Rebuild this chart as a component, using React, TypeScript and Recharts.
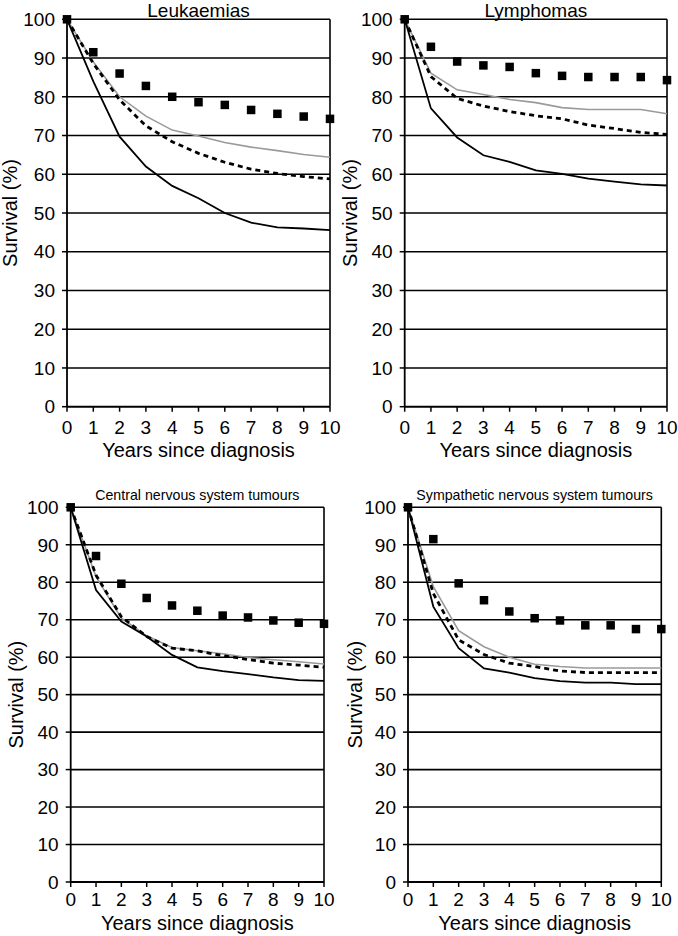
import React from 'react';
import { LineChart, Line, XAxis, YAxis, CartesianGrid, ReferenceLine } from 'recharts';

const FONT = '"Liberation Sans", Arial, sans-serif';

// shared axes
const years = [0, 1, 2, 3, 4, 5, 6, 7, 8, 9, 10];
const yTicks = [0, 10, 20, 30, 40, 50, 60, 70, 80, 90, 100];

// Leukaemias
const leukSolid = [100, 84, 69.7, 62, 57, 53.8, 50, 47.5, 46.3, 46, 45.6];
const leukGray = [100, 89, 80, 75, 71.4, 69.9, 68.2, 67, 66.1, 65.1, 64.4];
const leukDashed = [100, 88.6, 79.2, 72.5, 68.4, 65.4, 63.1, 61.3, 60.2, 59.4, 58.8];
const leukSquares = [100, 91.5, 86, 82.8, 80, 78.6, 77.9, 76.6, 75.6, 74.9, 74.3];

// Lymphomas
const lymphSolid = [100, 77, 69.5, 64.9, 63.2, 61, 60.1, 58.9, 58.1, 57.4, 57.1];
const lymphGray = [100, 86.1, 81.8, 80.6, 79.3, 78.5, 77.2, 76.7, 76.7, 76.7, 75.6];
const lymphDashed = [100, 85.2, 79.6, 77.6, 76.2, 75.1, 74.3, 72.7, 71.8, 70.8, 70.3];
const lymphSquares = [100, 92.9, 89.1, 88.1, 87.7, 86.1, 85.4, 85.1, 85.1, 85.1, 84.3];

// Central nervous system tumours
const cnsSolid = [100, 77.9, 69.5, 65.5, 60.6, 57.3, 56.3, 55.5, 54.6, 53.9, 53.7];
const cnsGray = [100, 81.5, 70.4, 65.7, 62.6, 61.7, 60.9, 59.9, 59.3, 58.8, 58.2];
const cnsDashed = [100, 81.9, 70.8, 65.5, 62.4, 61.7, 60.4, 59.4, 58.4, 57.9, 57.3];
const cnsSquares = [100, 87, 79.6, 75.8, 73.8, 72.4, 71.1, 70.6, 69.8, 69.2, 68.9];

// Sympathetic nervous system tumours
const snsSolid = [100, 73.5, 62.4, 57, 55.9, 54.4, 53.6, 53.2, 53.2, 52.8, 52.8];
const snsGray = [100, 78.8, 67.1, 62.8, 60, 58.1, 57.5, 57.1, 57.1, 57.1, 57.1];
const snsDashed = [100, 77, 64.6, 60.7, 58.4, 57.5, 56.3, 55.9, 55.9, 55.9, 55.9];
const snsSquares = [100, 91.5, 79.7, 75.2, 72.2, 70.4, 69.8, 68.5, 68.5, 67.5, 67.5];

const buildRows = (solid: number[], gray: number[], dashed: number[], squares: number[]) =>
  years.map((year, i) => ({ year, solid: solid[i], gray: gray[i], dashed: dashed[i], squares: squares[i] }));

const Square = (props: any) => {
  const { cx, cy, index } = props;
  if (cx == null || cy == null) return <g key={`sq-${index}`} />;
  return <rect key={`sq-${index}`} x={cx - 4.25} y={cy - 4.25} width={8.5} height={8.5} fill="#000" />;
};

interface PanelProps {
  title: string;
  titleSize: number;
  titleTop: number;
  rows: any[];
  x: number;
  y: number;
  w: number;
  h: number;
  plotL: number;
  plotR: number;
  plotT: number;
  plotB: number;
  xAxisH: number;
  xTickMargin: number;
  yLabelOffset: number;
}

const Panel: React.FC<PanelProps> = (p) => {
  const margin = {
    top: p.plotT - p.y,
    left: 0,
    right: p.x + p.w - p.plotR,
    bottom: p.y + p.h - p.plotB - p.xAxisH,
  };
  const tickStyle = { fontSize: 19, fill: '#000', fontFamily: FONT };
  const center = (p.plotL + p.plotR) / 2;
  return (
    <>
      <div
        style={{
          position: 'absolute',
          left: center - 170,
          width: 340,
          top: p.titleTop,
          fontSize: p.titleSize,
          lineHeight: `${(p.titleSize * 1.117).toFixed(2)}px`,
          textAlign: 'center',
          fontFamily: FONT,
          color: '#000',
          whiteSpace: 'nowrap',
        }}
      >
        {p.title}
      </div>
      <div style={{ position: 'absolute', left: p.x, top: p.y }}>
        <LineChart width={p.w} height={p.h} data={p.rows} margin={margin}>
          <CartesianGrid horizontal vertical={false} stroke="#000" strokeWidth={1.6} />
          <XAxis
            dataKey="year"
            type="number"
            domain={[0, 10]}
            ticks={years}
            interval={0}
            height={p.xAxisH}
            tickSize={5}
            tickMargin={p.xTickMargin}
            tick={tickStyle}
            axisLine={{ stroke: '#000', strokeWidth: 1.8 }}
            tickLine={{ stroke: '#000', strokeWidth: 1.5 }}
            label={{
              value: 'Years since diagnosis',
              position: 'insideBottom',
              offset: 0,
              style: { fontSize: 20, fill: '#000', fontFamily: FONT },
            }}
          />
          <YAxis
            type="number"
            domain={[0, 100]}
            ticks={yTicks}
            interval={0}
            width={p.plotL - p.x}
            tickSize={5}
            tickMargin={7}
            tick={tickStyle}
            axisLine={{ stroke: '#000', strokeWidth: 1.8 }}
            tickLine={{ stroke: '#000', strokeWidth: 1.5 }}
            label={{
              value: 'Survival (%)',
              angle: -90,
              position: 'insideLeft',
              offset: p.yLabelOffset,
              style: { fontSize: 20, fill: '#000', fontFamily: FONT, textAnchor: 'middle' },
            }}
          />
          <ReferenceLine x={10} stroke="#000" strokeWidth={1.6} />
          <Line dataKey="gray" stroke="#9a9a9a" strokeWidth={1.6} dot={false} activeDot={false} isAnimationActive={false} />
          <Line dataKey="solid" stroke="#000" strokeWidth={1.8} dot={false} activeDot={false} isAnimationActive={false} />
          <Line
            dataKey="dashed"
            stroke="#000"
            strokeWidth={2.8}
            strokeDasharray="5 4"
            dot={false}
            activeDot={false}
            isAnimationActive={false}
          />
          <Line dataKey="squares" stroke="none" dot={Square} activeDot={false} isAnimationActive={false} />
        </LineChart>
      </div>
    </>
  );
};

export default function App() {
  return (
    <div style={{ position: 'absolute', left: 0, top: 0, width: 678, height: 936, background: '#fff', overflow: 'hidden' }}>
      <Panel
        title="Leukaemias"
        titleSize={19}
        titleTop={0}
        rows={buildRows(leukSolid, leukGray, leukDashed, leukSquares)}
        x={0}
        y={0}
        w={345}
        h={470}
        plotL={67}
        plotR={330}
        plotT={19.3}
        plotB={406.7}
        xAxisH={50.6}
        xTickMargin={9}
        yLabelOffset={10}
      />
      <Panel
        title="Lymphomas"
        titleSize={19}
        titleTop={0}
        rows={buildRows(lymphSolid, lymphGray, lymphDashed, lymphSquares)}
        x={338}
        y={0}
        w={340}
        h={470}
        plotL={404.7}
        plotR={667}
        plotT={19.3}
        plotB={406.7}
        xAxisH={50.6}
        xTickMargin={9}
        yLabelOffset={12}
      />
      <Panel
        title="Central nervous system tumours"
        titleSize={14.2}
        titleTop={487.8}
        rows={buildRows(cnsSolid, cnsGray, cnsDashed, cnsSquares)}
        x={0}
        y={470}
        w={345}
        h={466}
        plotL={70.7}
        plotR={324}
        plotT={507.3}
        plotB={882}
        xAxisH={47.5}
        xTickMargin={6}
        yLabelOffset={16}
      />
      <Panel
        title="Sympathetic nervous system tumours"
        titleSize={14.2}
        titleTop={487.8}
        rows={buildRows(snsSolid, snsGray, snsDashed, snsSquares)}
        x={338}
        y={470}
        w={340}
        h={466}
        plotL={408}
        plotR={661.3}
        plotT={507.3}
        plotB={882}
        xAxisH={47.5}
        xTickMargin={6}
        yLabelOffset={16.7}
      />
    </div>
  );
}
